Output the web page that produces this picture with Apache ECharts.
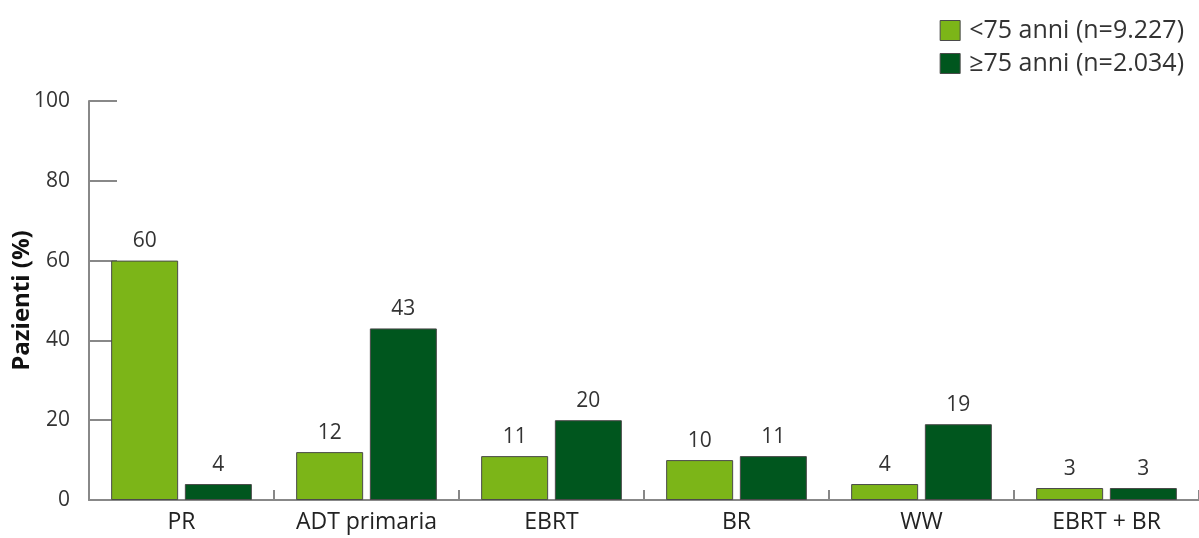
<!DOCTYPE html>
<html><head><meta charset="utf-8">
<script src="https://cdn.jsdelivr.net/npm/echarts@6/dist/echarts.min.js"></script>
<style>html,body{margin:0;padding:0;background:#fff;}#c{width:1199px;height:538px;}</style>
</head><body><div id="c"></div>
<script>
const categories = ['PR', 'ADT primaria', 'EBRT', 'BR', 'WW', 'EBRT + BR'];
const under75 = [60, 12, 11, 10, 4, 3];
const over75 = [4, 43, 20, 11, 19, 3];
const seriesNames = ['<75 anni (n=9.227)', '≥75 anni (n=2.034)'];
const yTicks = { min: 0, max: 100, interval: 20 };
const FONT = 'Open Sans';

const chart = echarts.init(document.getElementById('c'));
const barStyle = (color) => ({ color: color, borderColor: '#4a4a4a', borderWidth: 1 });
const lbl = { show: true, position: 'top', distance: 9, color: '#333', fontSize: 21, fontFamily: FONT };
chart.setOption({
  animation: false,
  textStyle: { fontFamily: FONT },
  grid: { left: 89, right: 0, top: 101, bottom: 38, containLabel: false, outerBoundsMode: 'none' },
  legend: {
    orient: 'vertical', right: 10, top: 13, itemWidth: 20, itemHeight: 20, itemGap: 8,
    icon: 'rect', align: 'left',
    textStyle: { fontSize: 25, color: '#333', fontFamily: FONT, padding: [0, 0, 0, 4] },
    data: seriesNames.map(n => ({ name: n, itemStyle: { borderColor: '#4a4a4a', borderWidth: 1 } }))
  },
  xAxis: {
    type: 'category', data: categories,
    axisLine: { lineStyle: { color: '#888', width: 2 } },
    axisTick: { show: true, inside: true, length: 10, alignWithLabel: false, lineStyle: { color: '#888', width: 2 } },
    axisLabel: { fontSize: 23, color: '#222', margin: 11, fontFamily: FONT }
  },
  yAxis: {
    type: 'value', min: yTicks.min, max: yTicks.max, interval: yTicks.interval,
    name: 'Pazienti (%)', nameLocation: 'middle', nameGap: 55, nameMoveOverlap: false,
    nameTextStyle: { fontSize: 24, fontWeight: 'bold', color: '#111', fontFamily: FONT },
    axisLine: { show: true, lineStyle: { color: '#888', width: 2 } },
    axisTick: { show: true, inside: true, length: 28, lineStyle: { color: '#888', width: 2 } },
    axisLabel: { fontSize: 21, color: '#333', margin: 19, fontFamily: FONT },
    splitLine: { show: false }
  },
  series: [
    { name: seriesNames[0], type: 'bar', data: under75, barWidth: 67, barGap: '10%', itemStyle: barStyle('#7cb518'), label: lbl },
    { name: seriesNames[1], type: 'bar', data: over75, barWidth: 67, barGap: '10%', itemStyle: barStyle('#00561e'), label: lbl }
  ]
});
</script></body></html>
